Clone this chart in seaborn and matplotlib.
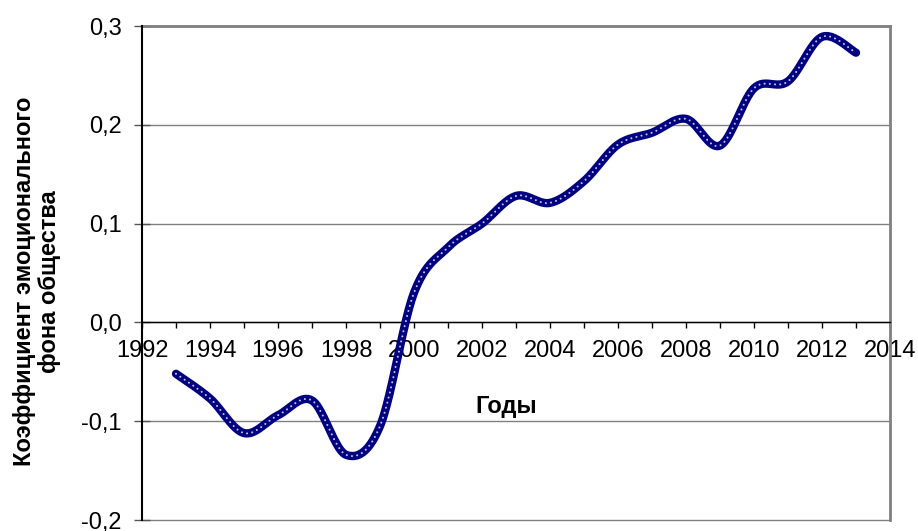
import numpy as np
import pandas as pd
import matplotlib
matplotlib.use("Agg")
import matplotlib.pyplot as plt
from matplotlib.ticker import MultipleLocator, FixedLocator, FixedFormatter
import seaborn as sns

# ---- data ----
years = [1993, 1994, 1995, 1996, 1997, 1998, 1999, 2000, 2001, 2002, 2003,
         2004, 2005, 2006, 2007, 2008, 2009, 2010, 2011, 2012, 2013]
coef = [-0.052, -0.077, -0.112, -0.094, -0.079, -0.134, -0.105, 0.030, 0.076,
        0.100, 0.128, 0.121, 0.143, 0.180, 0.192, 0.206, 0.179, 0.237, 0.244,
        0.289, 0.273]
y_ticks = [-0.2, -0.1, 0.0, 0.1, 0.2, 0.3]
y_tick_labels = ["-0,2", "-0,1", "0,0", "0,1", "0,2", "0,3"]
x_ticks = [1992, 1994, 1996, 1998, 2000, 2002, 2004, 2006, 2008, 2010, 2012, 2014]
x_tick_labels = [str(v) for v in x_ticks]
x_label = "Годы"
y_label = "Коэффициент эмоционального\nфона общества"


def excel_smooth(xs, ys, n=40):
    """Excel-style smoothed line: cubic Bezier segments with Catmull-Rom control points."""
    P = np.column_stack([xs, ys]).astype(float)
    out = []
    for i in range(len(P) - 1):
        p0 = P[i - 1] if i > 0 else P[i]
        p1 = P[i]
        p2 = P[i + 1]
        p3 = P[i + 2] if i + 2 < len(P) else P[i + 1]
        c1 = p1 + (p2 - p0) / 6.0
        c2 = p2 - (p3 - p1) / 6.0
        t = np.linspace(0, 1, n, endpoint=(i == len(P) - 2))[:, None]
        seg = ((1 - t) ** 3) * p1 + 3 * ((1 - t) ** 2) * t * c1 + 3 * (1 - t) * t ** 2 * c2 + t ** 3 * p2
        out.append(seg)
    return np.vstack(out)


sns.set_theme(style="white")
plt.rcParams["font.family"] = ["Liberation Sans", "DejaVu Sans"]

fig = plt.figure(figsize=(9.18, 5.31), dpi=100)
W, H = 918, 531
left, right, top, bottom = 142, 890, 26, 520
ax = fig.add_axes([left / W, 1 - bottom / H, (right - left) / W, (bottom - top) / H])

curve = excel_smooth(years, coef)
df = pd.DataFrame({"x": curve[:, 0], "y": curve[:, 1]})

sns.lineplot(data=df, x="x", y="y", ax=ax, sort=False, estimator=None,
             color="#000080", linewidth=6.0, solid_capstyle="round", zorder=3)
sns.lineplot(data=df, x="x", y="y", ax=ax, sort=False, estimator=None,
             color="#c4c4ec", linewidth=1.5, linestyle=(0, (0.01, 2.5)),
             dash_capstyle="round", zorder=4)

ax.set_xlim(1992, 2014)
ax.set_ylim(-0.2, 0.3)

# grid
ax.yaxis.grid(True, color="#808080", linewidth=1.0)
ax.xaxis.grid(False)
for gl in ax.yaxis.get_gridlines():
    gl.set_clip_on(False)

# spines
ax.spines["left"].set_color("black")
ax.spines["left"].set_linewidth(1.5)
ax.spines["left"].set_zorder(5)
ax.spines["bottom"].set_position(("data", 0))
ax.spines["bottom"].set_color("black")
ax.spines["bottom"].set_linewidth(1.0)
for s in ("top", "right"):
    ax.spines[s].set_color("#808080")
    ax.spines[s].set_linewidth(2.0)

# ticks
ax.yaxis.set_major_locator(FixedLocator(y_ticks))
ax.yaxis.set_major_formatter(FixedFormatter(y_tick_labels))
ax.xaxis.set_major_locator(FixedLocator(x_ticks))
ax.xaxis.set_major_formatter(FixedFormatter(x_tick_labels))
ax.xaxis.set_minor_locator(MultipleLocator(1))

ax.tick_params(axis="y", which="major", direction="inout", length=11, width=1,
               color="#555555", labelsize=17, pad=9, left=True, labelcolor="black")
ax.tick_params(axis="x", which="both", direction="out", length=4, width=1,
               color="black", bottom=True)
ax.tick_params(axis="x", which="major", labelsize=17, pad=9, labelcolor="black")

# labels
ax.set_ylabel(y_label, fontsize=17, fontweight="bold", color="black",
              linespacing=1.1, va="center")
ax.yaxis.set_label_coords(-0.140, 0.483)
ax.set_xlabel(x_label, fontsize=17, fontweight="bold", color="black", va="center")
ax.xaxis.set_label_coords(0.487, 0.229)

fig.patch.set_facecolor("white")
ax.set_facecolor("white")
fig.savefig("out.png", dpi=100, facecolor="white")
